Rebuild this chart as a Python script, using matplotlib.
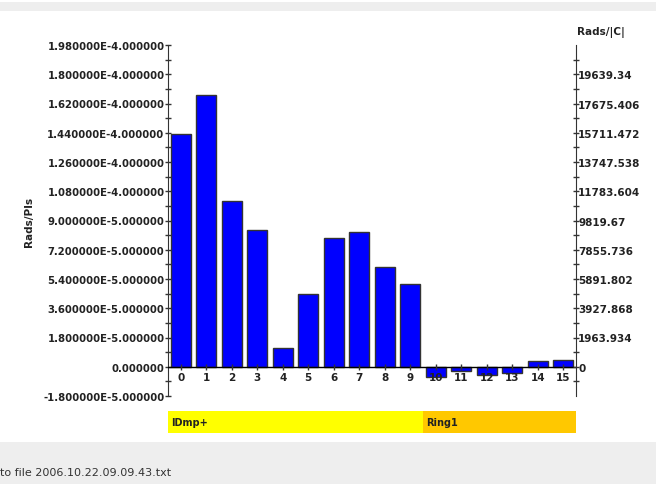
import matplotlib
matplotlib.use("Agg")
import matplotlib.pyplot as plt
from matplotlib.patches import Rectangle
from matplotlib.ticker import MultipleLocator, FixedLocator

# ---- data ----
categories = list(range(16))
values = [1.432e-4, 1.672e-4, 1.017e-4, 8.40e-5, 1.17e-5, 4.47e-5, 7.95e-5, 8.32e-5,
          6.14e-5, 5.09e-5, -6.2e-6, -2.5e-6, -5.2e-6, -4.1e-6, 3.3e-6, 3.9e-6]
left_ticks = [-1.8e-5, 0.0, 1.8e-5, 3.6e-5, 5.4e-5, 7.2e-5, 9.0e-5, 1.08e-4, 1.26e-4,
              1.44e-4, 1.62e-4, 1.8e-4, 1.98e-4]
left_labels = ["-1.800000E-5.000000", "0.000000", "1.800000E-5.000000", "3.600000E-5.000000",
               "5.400000E-5.000000", "7.200000E-5.000000", "9.000000E-5.000000",
               "1.080000E-4.000000", "1.260000E-4.000000", "1.440000E-4.000000",
               "1.620000E-4.000000", "1.800000E-4.000000", "1.980000E-4.000000"]
right_ticks = [0, 1963.934, 3927.868, 5891.802, 7855.736, 9819.67, 11783.604,
               13747.538, 15711.472, 17675.406, 19639.34]
right_labels = ["0", "1963.934", "3927.868", "5891.802", "7855.736", "9819.67", "11783.604",
                "13747.538", "15711.472", "17675.406", "19639.34"]
right_lim = (-1963.934, 21603.274)
groups = ["IDmp+", "Ring1"]
group_start = [0, 10]
group_end = [9, 15]
group_colors = ["#FFFF00", "#FFC800"]
footer_text = "to file 2006.10.22.09.09.43.txt"

W, H = 656, 485
fig = plt.figure(figsize=(W / 100, H / 100), dpi=100)
fig.patch.set_facecolor("white")

def fx(px):
    return px / W

def fy(py):
    return 1 - py / H

# gray strips
fig.add_artist(Rectangle((0, fy(12)), 1, (12 - 3) / H, transform=fig.transFigure,
                         facecolor="#EEEEEE", edgecolor="none"))
fig.add_artist(Rectangle((0, 0), 1, (H - 443) / H, transform=fig.transFigure,
                         facecolor="#EEEEEE", edgecolor="none"))
fig.text(fx(0), fy(473), footer_text, fontsize=8, color="#333333", va="center", ha="left",
         family="DejaVu Sans")

ax_l, ax_r, ax_t, ax_b = 168, 576, 46, 397
ax = fig.add_axes([fx(ax_l), fy(ax_b), fx(ax_r - ax_l), (ax_b - ax_t) / H])
ax.set_facecolor("white")
ax.bar(categories, values, width=0.8, color="#0000FF", edgecolor="#333333", linewidth=1, zorder=2)
ax.set_xlim(-0.5, 15.5)
ax.set_ylim(left_ticks[0], left_ticks[-1])
for s in ["top", "bottom"]:
    ax.spines[s].set_visible(False)
ax.spines["left"].set_color("#333333")
ax.spines["right"].set_visible(False)
ax.set_xticks([])
ax.yaxis.set_major_locator(FixedLocator(left_ticks))
ax.set_yticklabels(left_labels)
ax.yaxis.set_minor_locator(MultipleLocator(9e-6))
ax.tick_params(axis="y", which="major", direction="inout", length=5, width=1, color="#333333",
               labelsize=7.3, pad=0)
ax.tick_params(axis="y", which="minor", direction="inout", length=5, width=1, color="#333333")
for lab in ax.get_yticklabels():
    lab.set_fontweight("bold")
    lab.set_color("#222222")
fig.text(fx(29), fy(222), "Rads/PIs", rotation=90, fontsize=7.5, fontweight="bold",
         color="#222222", ha="center", va="center")

# baseline & category ticks at zero
ax.axhline(0, color="black", linewidth=1, zorder=3)
ax.plot(categories, [0] * len(categories), linestyle="none", marker="|", markersize=5,
        markeredgewidth=1, color="#333333", zorder=4)
for c in categories:
    ax.annotate(str(c), (c, 0), xytext=(0, -3.5), textcoords="offset points", ha="center",
                va="top", fontsize=7.5, fontweight="bold", color="#222222", zorder=5)

# right axis
ax2 = ax.twinx()
ax2.set_ylim(*right_lim)
for s in ["top", "bottom", "left"]:
    ax2.spines[s].set_visible(False)
ax2.spines["right"].set_color("#333333")
ax2.yaxis.set_major_locator(FixedLocator(right_ticks))
ax2.set_yticklabels(right_labels)
ax2.yaxis.set_minor_locator(FixedLocator([-981.967 + 1963.934 * k for k in range(12)]))
ax2.tick_params(axis="y", which="major", direction="inout", length=5, width=1, color="#333333",
                labelsize=7.5, pad=-1)
ax2.tick_params(axis="y", which="minor", direction="inout", length=5, width=1, color="#333333")
for lab in ax2.get_yticklabels():
    lab.set_fontweight("bold")
    lab.set_color("#222222")
fig.text(fx(577), fy(33), "Rads/|C|", fontsize=7.5, fontweight="bold", color="#222222",
         ha="left", va="center")

# group band
band = fig.add_axes([fx(ax_l), fy(434), fx(ax_r - ax_l), (434 - 412) / H])
band.set_xlim(-0.5, 15.5)
band.set_ylim(0, 1)
band.axis("off")
for g, s, e, col in zip(groups, group_start, group_end, group_colors):
    band.barh(0.5, (e + 0.5) - (s - 0.5), left=s - 0.5, height=1, color=col, edgecolor="none")
    band.annotate(g, (s - 0.5, 0.5), xytext=(2, 0), textcoords="offset points", ha="left",
                  va="center", fontsize=7, fontweight="bold", color="#222222")

fig.savefig("out.png", dpi=100)
